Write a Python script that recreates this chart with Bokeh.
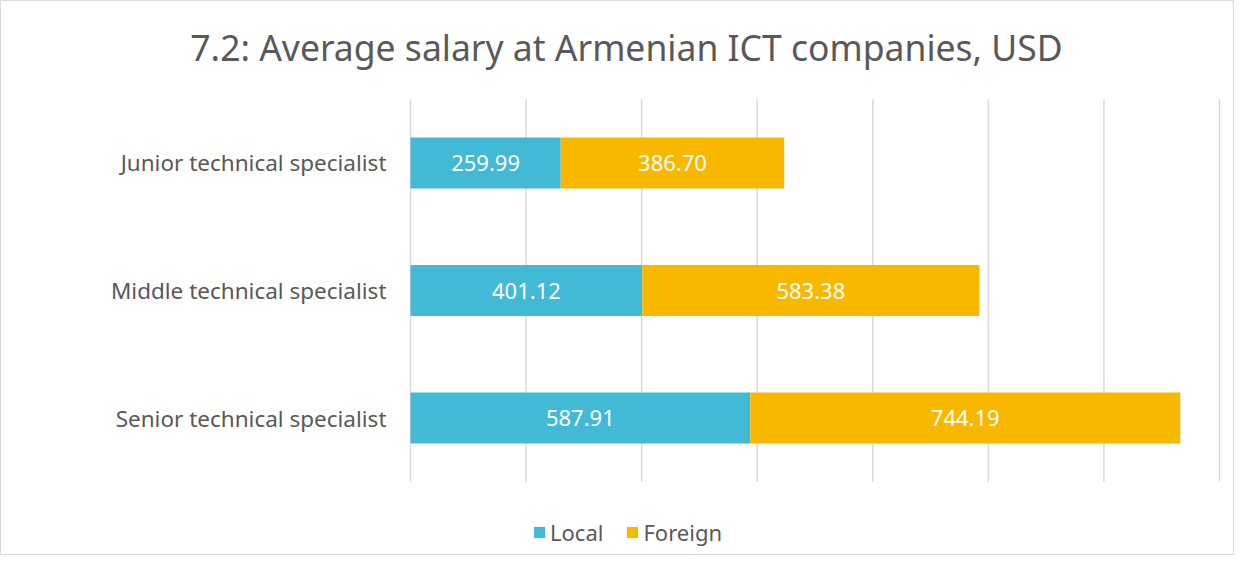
from bokeh.plotting import figure
from bokeh.models import ColumnDataSource, Label, Legend, LegendItem, LabelSet, Range1d, FactorRange
from bokeh.embed import file_html
from bokeh.resources import INLINE
from bokeh.core.properties import value

categories = ["Junior technical specialist", "Middle technical specialist", "Senior technical specialist"]
local = [259.99, 401.12, 587.91]
foreign = [386.70, 583.38, 744.19]
series = ["Local", "Foreign"]
grid_ticks = [0, 200, 400, 600, 800, 1000, 1200, 1400]
colors = ["#42B9D5", "#F9B800"]

FONT = "Noto Sans"
TXT = "#595959"

factors = list(reversed(categories))
src = ColumnDataSource(dict(
    cat=categories,
    base=[0] * len(categories),
    Local=local,
    Foreign=foreign,
    local_mid=[v / 2 for v in local],
    foreign_mid=[l + f / 2 for l, f in zip(local, foreign)],
    local_lbl=[f"{v:.2f}" for v in local],
    foreign_lbl=[f"{v:.2f}" for v in foreign],
))

W, H = 1234, 555
TOP = 23
# pixel layout: x=0 -> 410px, x=1400 -> 1219px ; categories occupy 98..482px
upp = 1400 / (1219 - 410)
p = figure(width=W, height=H,
           y_range=FactorRange(*factors, range_padding=(H - 480) / 128, range_padding_units="absolute"),
           x_range=Range1d(-409 * upp, 1400 + (W - 1218) * upp),
           output_backend="svg", toolbar_location=None,
           min_border_left=0, min_border_right=0, min_border_top=TOP, min_border_bottom=0)
p.styles = {"border": "1px solid #d9d9d9"}
p.axis.visible = False
p.grid.grid_line_color = None
p.outline_line_color = None

# vertical gridlines spanning the category band
p.segment(x0=grid_ticks, x1=grid_ticks, y0=[0] * len(grid_ticks), y1=[len(categories)] * len(grid_ticks),
          line_color="#d9d9d9", line_width=1.5)

rs = p.hbar_stack(series, y="cat", height=0.4, color=colors, source=src, line_color=None)

for xcol, lcol in (("local_mid", "local_lbl"), ("foreign_mid", "foreign_lbl")):
    p.add_layout(LabelSet(x=xcol, y="cat", text=lcol, source=src, text_color="white",
                          text_align="center", text_baseline="middle", text_font_size="22px",
                          text_font=value(FONT)))

# category labels
p.text(x="base", y="cat", text="cat", source=src, x_offset=-24, text_align="right",
       text_baseline="middle", text_font=value(FONT), text_font_size="22.5px", text_color=TXT)

title = Label(x=625, y=H - 45, x_units="screen", y_units="screen",
              text="7.2: Average salary at Armenian ICT companies, USD",
              text_align="center", text_baseline="middle", text_font=FONT, text_font_size="35.5px",
              text_color=TXT)
p.add_layout(title)

legend = Legend(items=[LegendItem(label=s, renderers=[r]) for s, r in zip(series, rs)],
                orientation="horizontal", location=(531, 9), background_fill_alpha=0,
                border_line_color=None, label_text_font=FONT, label_text_font_size="22px",
                label_text_color=TXT, glyph_width=14, glyph_height=14, spacing=22, label_standoff=4,
                padding=0, margin=0)
p.add_layout(legend, "center")

open("out.html", "w").write(file_html(p, INLINE))
